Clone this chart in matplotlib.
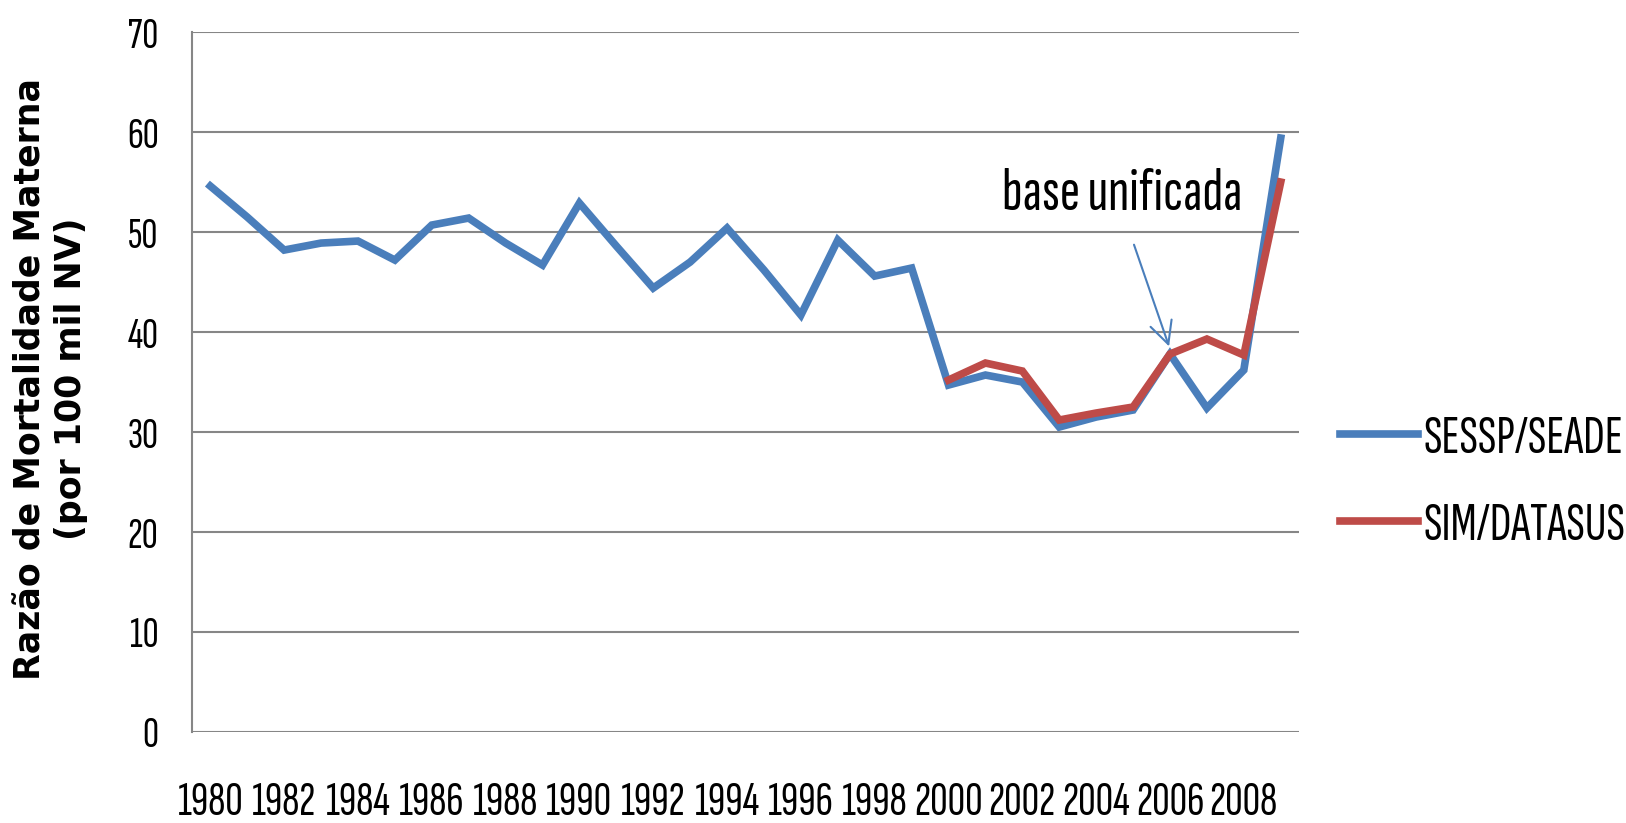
import matplotlib
matplotlib.use("Agg")
import matplotlib.pyplot as plt

# Data
years = list(range(1980, 2010))
sessp_seade = [54.6, 51.5, 48.2, 48.9, 49.1, 47.2, 50.7, 51.4, 48.9, 46.7,
               52.9, 48.6, 44.4, 47.0, 50.4, 46.2, 41.7, 49.2, 45.6, 46.4,
               34.7, 35.7, 35.0, 30.5, 31.5, 32.2, 37.8, 32.4, 36.2, 59.4]
sim_years = list(range(2000, 2010))
sim_datasus = [35.2, 36.9, 36.1, 31.2, 31.9, 32.5, 37.8, 39.3, 37.7, 55.0]

narrow = ['Sofia Sans Extra Condensed', 'DejaVu Sans']

fig = plt.figure(figsize=(16.26, 8.23), dpi=100)
ax = fig.add_axes([0.118, 0.1106, 0.681, 0.8504])

ax.plot(years, sessp_seade, color='#4A7EBB', lw=5.5, label='SESSP/SEADE',
        solid_joinstyle='miter', zorder=3)
ax.plot(sim_years, sim_datasus, color='#BE4B48', lw=5.5, label='SIM/DATASUS',
        solid_joinstyle='miter', zorder=4)

ax.set_xlim(1979.5, 2009.5)
ax.set_ylim(0, 70)
ax.set_yticks(range(0, 71, 10))
ax.set_xticks(years[::2])
ax.grid(axis='y', color='#868686', lw=1.5)
ax.set_axisbelow(True)
for s in ['top', 'right', 'bottom']:
    ax.spines[s].set_visible(False)
ax.spines['left'].set_color('#868686')
ax.spines['left'].set_linewidth(1.5)
ax.tick_params(axis='both', length=0)
ax.tick_params(axis='x', pad=36)
ax.tick_params(axis='y', pad=24)
for lab in ax.get_xticklabels():
    lab.set_family(narrow)
    lab.set_fontsize(35)
    lab.set_fontweight('light')
for lab in ax.get_yticklabels():
    lab.set_family(narrow)
    lab.set_fontsize(32)
    lab.set_fontweight('light')

fig.text(0.031, 0.54, 'Razão de Mortalidade Materna\n(por 100 mil NV)',
         rotation=90, ha='center', va='center', multialignment='center',
         fontsize=25, fontweight='bold', linespacing=1.25)

# annotation
ax.annotate('', xy=(2006.0, 38.3), xytext=(2005.0, 49.0),
            arrowprops=dict(arrowstyle='->', color='#4A7EBB', lw=1.5,
                            mutation_scale=40))
ax.text(2004.7, 53.8, 'base unificada', ha='center', va='center',
        fontsize=44, family=narrow, fontweight='light')

fig.legend(loc='center left', bbox_to_anchor=(0.794, 0.414), frameon=False,
           prop={'family': narrow, 'size': 39, 'weight': 'light'},
           handlelength=1.45, handletextpad=0.1, labelspacing=0.72)

fig.savefig('out.png', dpi=100)
